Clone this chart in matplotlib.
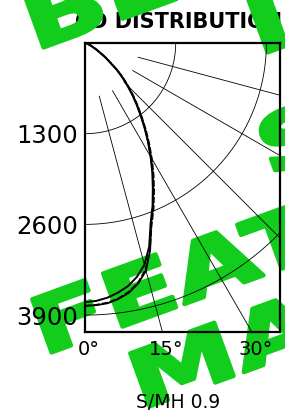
import numpy as np
import matplotlib
matplotlib.use("Agg")
import matplotlib.pyplot as plt
import matplotlib.patheffects as pe
from matplotlib.transforms import Affine2D, ScaledTranslation

# ---------------- data ----------------
angles_deg = [0, 2.5, 5, 7.5, 10, 12.5, 15, 17.5, 20, 22.5, 25, 27.5, 30, 32.5, 35,
              37.5, 40, 42.5, 45, 47.5, 50, 55, 60, 65, 70, 75, 80, 85, 90]
cd_solid = [3715, 3700, 3665, 3610, 3540, 3435, 3290, 3060, 2750, 2530, 2300, 2090, 1880,
            1680, 1490, 1310, 1150, 1000, 855, 720, 590, 350, 190, 100, 50, 22, 10, 4, 0]
cd_solid2 = [3770, 3762, 3745, 3700, 3635, 3530, 3380, 3110, 2770, 2545, 2315, 2100, 1890,
             1690, 1500, 1320, 1160, 1008, 862, 726, 595, 354, 192, 101, 51, 22, 10, 4, 0]
cd_dashed = [3765, 3755, 3735, 3690, 3620, 3515, 3360, 3100, 2790, 2570, 2345, 2130, 1920,
             1715, 1525, 1340, 1180, 1025, 880, 742, 610, 362, 197, 104, 52, 23, 10, 4, 0]

ring_values = [1300, 2600, 3900]
ray_angles = [15, 30, 45, 60, 75]
ytick_labels = ["1300", "2600", "3900"]
xtick_angles = [0, 15, 30]
xtick_labels = ["0°", "15°", "30°"]
title_text = "CD DISTRIBUTION"
footer_text = "S/MH 0.9"
watermark_rows = ["BEST", "I", "S", "FEATURE", "MATCH"]

# ---------------- figure ----------------
W, H = 285, 413
fig = plt.figure(figsize=(W / 100, H / 100), dpi=100)

ax_l, ax_r, ax_t, ax_b = 85, 280, 43, 332
ax = fig.add_axes([ax_l / W, 1 - ax_b / H, (ax_r - ax_l) / W, (ax_b - ax_t) / H])
ax.set_zorder(5)
ax.patch.set_alpha(0)

k = 90.7 / 1300.0  # px per candela unit
xmax = (ax_r - ax_l) / k
ymax = (ax_b - ax_t) / k
ax.set_xlim(0, xmax)
ax.set_ylim(ymax, 0)


def polar_xy(r, th_deg):
    th = np.radians(np.asarray(th_deg, dtype=float))
    r = np.asarray(r, dtype=float)
    return r * np.sin(th), r * np.cos(th)


# rings
th_full = np.linspace(0, 90, 200)
for rv in ring_values:
    x, y = polar_xy(np.full_like(th_full, rv), th_full)
    ax.plot(x, y, color="black", lw=0.6)

# rays
for a in ray_angles:
    x, y = polar_xy([790, 8000], [a, a])
    ax.plot(x, y, color="black", lw=0.6)

# candela curves
x, y = polar_xy(cd_solid, angles_deg)
ax.plot(x, y, color="black", lw=1.4, solid_capstyle="round")
x, y = polar_xy(cd_solid2, angles_deg)
ax.plot(x, y, color="black", lw=1.2)
x, y = polar_xy(cd_dashed, angles_deg)
ax.plot(x, y, color="black", lw=1.2, ls=(0, (4, 1)))

for s in ax.spines.values():
    s.set_linewidth(1.6)

ax.set_yticks(ring_values)
ax.set_yticklabels(ytick_labels, fontsize=17.5)
ax.set_xticks([ymax * np.tan(np.radians(a)) for a in xtick_angles])
ax.set_xticklabels(xtick_labels, fontsize=14)
ax.tick_params(length=0, pad=5.5)
ax.tick_params(axis="y", pad=5)
shift = ScaledTranslation(4 / 100, 0, fig.dpi_scale_trans)
for lab in ax.get_xticklabels():
    lab.set_transform(lab.get_transform() + shift)

# title and footer
fig.text(75 / W, 1 - 22 / H, title_text, fontsize=15, fontweight="bold",
         ha="left", va="center", zorder=1)
fig.text(178 / W, 1 - 403 / H, footer_text, fontsize=13.5, ha="center", va="center",
         zorder=6)


# watermark (green, rotated, horizontally extended glyphs)
class Extend(pe.AbstractPathEffect):
    def __init__(self, sx, lw=0.0):
        super().__init__()
        self.sx = sx
        self.lw = lw

    def draw_path(self, renderer, gc, tpath, affine, rgbFace=None):
        gc0 = renderer.new_gc()
        gc0.copy_properties(gc)
        gc0.set_linewidth(self.lw)
        gc0.set_foreground(rgbFace)
        renderer.draw_path(gc0, tpath, Affine2D().scale(self.sx, 1.0) + affine, rgbFace)
        gc0.restore()


green = "#13CD1D"
anchors = [(34, 51), (258, 56), (268, 176), (42, 356), (140, 410)]
for word, (px, py) in zip(watermark_rows, anchors):
    fig.text(px / W, 1 - py / H, word, color=green, fontsize=56, fontweight="bold",
             rotation=20, rotation_mode="anchor", ha="left", va="baseline",
             zorder=2, path_effects=[Extend(1.42, lw=3.0)])

fig.savefig("out.png", dpi=100)
